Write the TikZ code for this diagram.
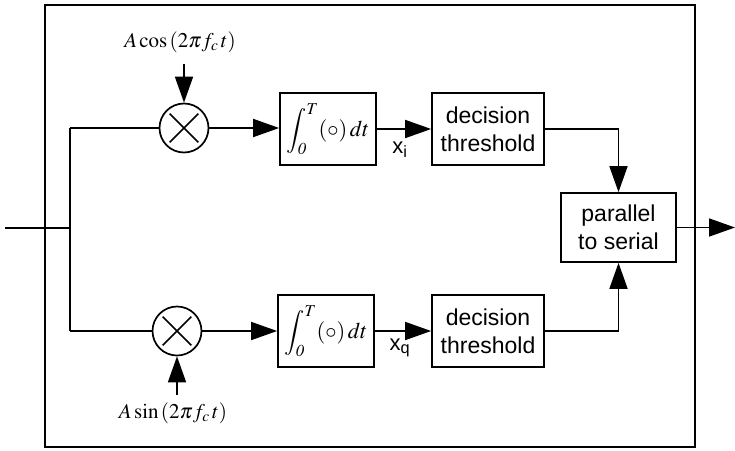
\documentclass[tikz,border=0pt]{standalone}
\usepackage{mathptmx}
\usepackage{fontspec}
\setmainfont{Liberation Serif}
\setsansfont{Liberation Sans}
\usetikzlibrary{arrows.meta,calc}
\begin{document}
\begin{tikzpicture}[x=1pt,y=-1pt,
  line width=1.7pt,
  arr/.style={-{Triangle[length=26pt,width=18pt]}},
  blk/.style={draw,rectangle,inner sep=0pt,font=\sffamily\fontsize{23}{28}\selectfont,align=center},
  mult/.style={draw,circle,minimum size=49pt,inner sep=0pt},
  mlabel/.style={font=\fontsize{21}{25}\selectfont},
  xlabel/.style={font=\sffamily\fontsize{22}{26}\selectfont}]
\useasboundingbox (0,0) rectangle (735,450);
\node[draw,line width=1.9pt,rectangle,minimum width=650pt,minimum height=442pt,inner sep=0pt] (outer) at (370,226) {};
\coordinate (in) at (5,228);
\coordinate (br) at (70,228);
\node[mult] (m1) at (184,128) {};
\node[mult] (m2) at (177,331) {};
\foreach \m in {m1,m2}{
  \draw ($(\m)!0.8!(\m.north west)$) -- ($(\m)!0.8!(\m.south east)$);
  \draw ($(\m)!0.8!(\m.north east)$) -- ($(\m)!0.8!(\m.south west)$);
}
\newcommand\intexpr{\fontsize{22.5}{27}\selectfont$\displaystyle\int_{\mathit{0}}^{T}(\circ)\,dt$}
\node[blk,minimum width=96pt,minimum height=72pt] (int1) at (328,129) {\intexpr};
\node[blk,minimum width=96pt,minimum height=72pt] (int2) at (326,331) {\intexpr};
\node[blk,minimum width=112pt,minimum height=72pt] (dec1) at (488,129) {decision\\threshold};
\node[blk,minimum width=112pt,minimum height=72pt] (dec2) at (488,331) {decision\\threshold};
\node[blk,minimum width=115pt,minimum height=69pt] (ps) at (618.5,227.5) {parallel\\to serial};
\coordinate (out) at (735,227.5);
\node[mlabel] (cosl) at (180,42) {$A\cos\,(2\pi f_c\,t)$};
\node[mlabel] (sinl) at (173,413) {$A\sin\,(2\pi f_c\,t)$};
\coordinate (cosa) at (184,64);
\coordinate (sina) at (177,395);
\node[xlabel] (xi) at (400,150) {x\textsubscript{i}};
\node[xlabel] (xq) at (400,348) {x\textsubscript{q}};
% connectors
\draw (in) -- (br);
\draw (br |- m1) -- (br |- m2);
\draw (br |- m1) -- (m1.west);
\draw (br |- m2) -- (m2.west);
\draw[arr] (cosa) -- (m1.north);
\draw[arr] (sina) -- (m2.south);
\draw[arr] (m1.east) -- (m1.east -| int1.west);
\draw[arr] (m2.east) -- (m2.east -| int2.west);
\draw[arr] (int1.east) -- (dec1.west);
\draw[arr] (int2.east) -- (dec2.west);
\draw[arr] (dec1.east) -| (ps.north);
\draw[arr] (dec2.east) -| (ps.south);
\draw[arr] (ps.east) -- (out);
\end{tikzpicture}
\end{document}
